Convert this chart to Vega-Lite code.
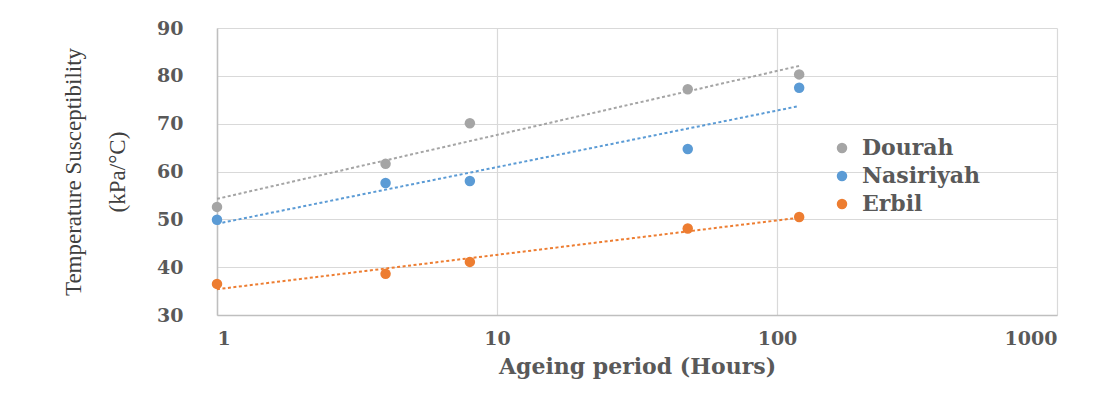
{
  "$schema": "https://vega.github.io/schema/vega-lite/v6.json",
  "width": 840,
  "height": 287,
  "autosize": {"type": "none"},
  "padding": {"left": 217, "top": 28, "right": 48, "bottom": 79},
  "background": "white",
  "data": {
    "values": [
      {"hours": 1, "value": 52.6, "series": "Dourah"},
      {"hours": 4, "value": 61.6, "series": "Dourah"},
      {"hours": 8, "value": 70.1, "series": "Dourah"},
      {"hours": 48, "value": 77.2, "series": "Dourah"},
      {"hours": 120, "value": 80.3, "series": "Dourah"},
      {"hours": 1, "value": 49.9, "series": "Nasiriyah"},
      {"hours": 4, "value": 57.6, "series": "Nasiriyah"},
      {"hours": 8, "value": 58.0, "series": "Nasiriyah"},
      {"hours": 48, "value": 64.7, "series": "Nasiriyah"},
      {"hours": 120, "value": 77.5, "series": "Nasiriyah"},
      {"hours": 1, "value": 36.5, "series": "Erbil"},
      {"hours": 4, "value": 38.6, "series": "Erbil"},
      {"hours": 8, "value": 41.1, "series": "Erbil"},
      {"hours": 48, "value": 48.1, "series": "Erbil"},
      {"hours": 120, "value": 50.5, "series": "Erbil"}
    ]
  },
  "config": {
    "view": {"stroke": null},
    "axis": {
      "labelFont": "DejaVu Serif",
      "labelFontWeight": "bold",
      "labelFontSize": 19,
      "labelColor": "#595959",
      "gridColor": "#D9D9D9",
      "gridWidth": 1.2,
      "domainColor": "#BFBFBF",
      "domainWidth": 1.5,
      "ticks": false
    }
  },
  "resolve": {"legend": {"color": "independent"}},
  "layer": [
    {
      "transform": [
        {"regression": "value", "on": "hours", "groupby": ["series"], "method": "log", "extent": [1, 120]}
      ],
      "mark": {"type": "line", "strokeDash": [3, 2.5], "strokeWidth": 2},
      "encoding": {
        "x": {"field": "hours", "type": "quantitative", "scale": {"type": "log", "domain": [1, 1000]}},
        "y": {"field": "value", "type": "quantitative", "scale": {"domain": [30, 90]}},
        "color": {
          "field": "series", "type": "nominal",
          "scale": {"domain": ["Dourah", "Nasiriyah", "Erbil"], "range": ["#A5A5A5", "#5B9BD5", "#ED7D31"]},
          "legend": null
        }
      }
    },
    {
      "mark": {"type": "circle", "size": 110, "opacity": 1},
      "encoding": {
        "x": {
          "field": "hours", "type": "quantitative",
          "scale": {"type": "log", "domain": [1, 1000]},
          "axis": {
            "values": [1, 10, 100, 1000],
            "format": "d",
            "grid": true,
            "labelPadding": 14,
            "title": "Ageing period (Hours)",
            "titleFont": "DejaVu Serif",
            "titleFontWeight": "bold",
            "titleFontSize": 22,
            "titleColor": "#595959",
            "titlePadding": 8
          }
        },
        "y": {
          "field": "value", "type": "quantitative",
          "scale": {"domain": [30, 90]},
          "axis": {
            "values": [30, 40, 50, 60, 70, 80, 90],
            "grid": true,
            "labelPadding": 34,
            "title": ["Temperature Susceptibility", "(kPa/°C)"],
            "titleFont": "Liberation Serif",
            "titleFontWeight": "normal",
            "titleFontSize": 23,
            "titleColor": "#404040",
            "titleLineHeight": 44,
            "titlePadding": 27
          }
        },
        "color": {
          "field": "series", "type": "nominal",
          "scale": {"domain": ["Dourah", "Nasiriyah", "Erbil"], "range": ["#A5A5A5", "#5B9BD5", "#ED7D31"]},
          "legend": {
            "title": null,
            "orient": "none",
            "legendX": 614,
            "legendY": 109,
            "symbolType": "circle",
            "symbolSize": 110,
            "labelFont": "DejaVu Serif",
            "labelFontWeight": "bold",
            "labelFontSize": 22,
            "labelColor": "#595959",
            "rowPadding": 6,
            "labelOffset": 9
          }
        }
      }
    }
  ]
}
